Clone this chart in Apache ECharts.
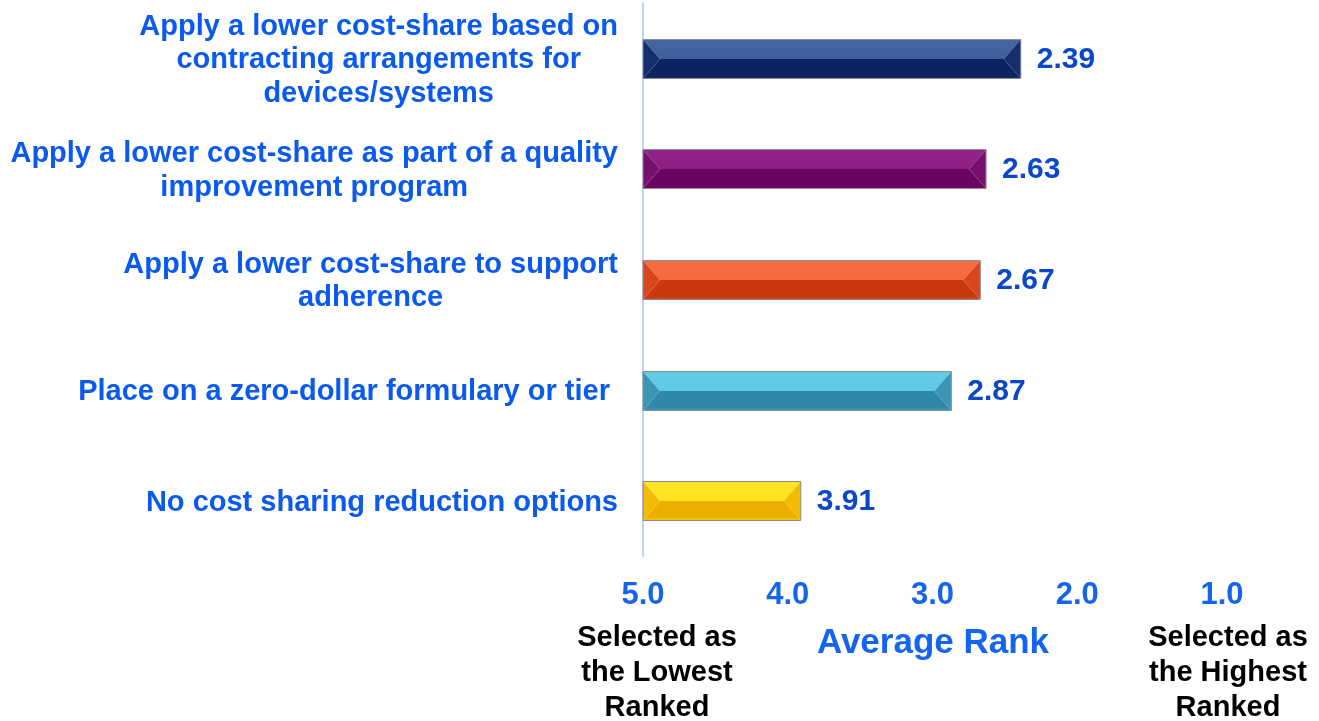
<!DOCTYPE html>
<html>
<head>
<meta charset="utf-8">
<script src="https://cdn.jsdelivr.net/npm/echarts@6/dist/echarts.min.js"></script>
<style>
  html, body { margin: 0; padding: 0; background: #fff; }
  #chart { width: 1319px; height: 721px; }
</style>
</head>
<body>
<div id="chart"></div>
<script>
// data
var categories = [
  ['Apply a lower cost-share based on', 'contracting arrangements for', 'devices/systems'],
  ['Apply a lower cost-share as part of a quality', 'improvement program'],
  ['Apply a lower cost-share to support', 'adherence'],
  ['Place on a zero-dollar formulary or tier '],
  ['No cost sharing reduction options']
];
var avgRank = [2.39, 2.63, 2.67, 2.87, 3.91];
var rankTicks = [5.0, 4.0, 3.0, 2.0, 1.0];
var lowestRank = 5; // left end of the axis

// bevel colours: [top face, bottom face, end faces]
var barColors = [
  ['#3f5f9d', '#0b2461', '#142d6b'],
  ['#8d1d82', '#690460', '#77106c'],
  ['#f4693b', '#c9380f', '#d7461c'],
  ['#5fc9e7', '#2f88a6', '#3b96b4'],
  ['#ffe422', '#ebaf00', '#f2bb04']
];

var FONT = '"Liberation Sans", Arial, sans-serif';
var BAR_H = 39;
var BEVEL = 17;

var chart = echarts.init(document.getElementById('chart'));

function renderBar(params, api) {
  var idx = api.value(1);
  var start = api.coord([0, idx]);
  var end = api.coord([api.value(0), idx]);
  var x0 = start[0], x1 = end[0];
  var y0 = Math.round(start[1] - BAR_H / 2) + 0.5, y1 = y0 + BAR_H, ym = y0 + BAR_H / 2;
  var d = Math.min(BEVEL, (x1 - x0) / 2);
  var c = barColors[params.dataIndex];
  var topFill = new echarts.graphic.LinearGradient(0, 0, 0, 1, [
    { offset: 0, color: echarts.color.lift(c[0], 0.04) },
    { offset: 1, color: c[0] }
  ]);
  var bottomFill = new echarts.graphic.LinearGradient(0, 0, 0, 1, [
    { offset: 0, color: c[1] },
    { offset: 0.85, color: c[1] },
    { offset: 1, color: echarts.color.lift(c[1], -0.2) }
  ]);
  return {
    type: 'group',
    children: [
      { type: 'polygon', shape: { points: [[x0, y1], [x1, y1], [x1 - d, ym], [x0 + d, ym]] }, style: { fill: bottomFill } },
      { type: 'polygon', shape: { points: [[x0, y0], [x1, y0], [x1 - d, ym], [x0 + d, ym]] }, style: { fill: topFill } },
      { type: 'polygon', shape: { points: [[x0, y0], [x0 + d, ym], [x0, y1]] }, style: { fill: c[2] } },
      { type: 'polygon', shape: { points: [[x1, y0], [x1, y1], [x1 - d, ym]] }, style: { fill: c[2] } },
      { type: 'rect', shape: { x: x0, y: y0, width: x1 - x0, height: BAR_H }, style: { fill: 'none', stroke: '#8c8c8c', lineWidth: 1 } },
      {
        type: 'text', x: x1 + 16, y: ym + 1,
        style: {
          text: api.value(2).toFixed(2), fontFamily: FONT, fontWeight: 'bold', fontSize: 30,
          fill: '#0b47c9', align: 'left', verticalAlign: 'middle'
        }
      }
    ]
  };
}

var option = {
  animation: false,
  grid: { left: 643, right: 97, top: 3, bottom: 165, containLabel: false },
  xAxis: {
    type: 'value',
    min: 0,
    max: lowestRank - rankTicks[rankTicks.length - 1],
    interval: 1,
    axisLine: { show: false },
    axisTick: { show: false },
    splitLine: { show: false },
    axisLabel: {
      margin: 24,
      fontFamily: FONT,
      fontWeight: 'bold',
      fontSize: 31,
      color: '#1464ee',
      formatter: function (v) { return (lowestRank - v).toFixed(1); }
    }
  },
  yAxis: {
    type: 'category',
    inverse: true,
    data: categories.map(function (c) { return c.join('\n'); }),
    axisTick: { show: false },
    axisLine: { show: true, lineStyle: { color: '#c3d4f2', width: 2 } },
    axisLabel: {
      margin: 25,
      align: 'right',
      padding: [4, 0, 0, 0],
      formatter: function (v) {
        return v.split('\n').map(function (s) { return '{c|' + s + '}'; }).join('\n');
      },
      rich: {
        c: {
          align: 'center',
          fontFamily: FONT,
          fontWeight: 'bold',
          fontSize: 29,
          lineHeight: 33.5,
          color: '#0a5af0'
        }
      }
    }
  },
  series: [{
    type: 'custom',
    renderItem: renderBar,
    encode: { x: 0, y: 1 },
    data: avgRank.map(function (v, i) { return [lowestRank - v, i, v]; })
  }],
  graphic: [
    {
      type: 'text', x: 933, y: 643,
      style: {
        text: 'Average Rank', fontFamily: FONT, fontWeight: 'bold', fontSize: 35,
        fill: '#1464ee', align: 'center', verticalAlign: 'middle'
      }
    },
    {
      type: 'text', x: 657, y: 620,
      style: {
        text: 'Selected as\nthe Lowest\nRanked', fontFamily: FONT, fontWeight: 'bold',
        fontSize: 29, lineHeight: 35, fill: '#000', align: 'center', verticalAlign: 'top'
      }
    },
    {
      type: 'text', x: 1228, y: 620,
      style: {
        text: 'Selected as\nthe Highest\nRanked', fontFamily: FONT, fontWeight: 'bold',
        fontSize: 29, lineHeight: 35, fill: '#000', align: 'center', verticalAlign: 'top'
      }
    }
  ]
};

chart.setOption(option);
window.addEventListener('resize', function () {
  chart.resize();
});
</script>
</body>
</html>
